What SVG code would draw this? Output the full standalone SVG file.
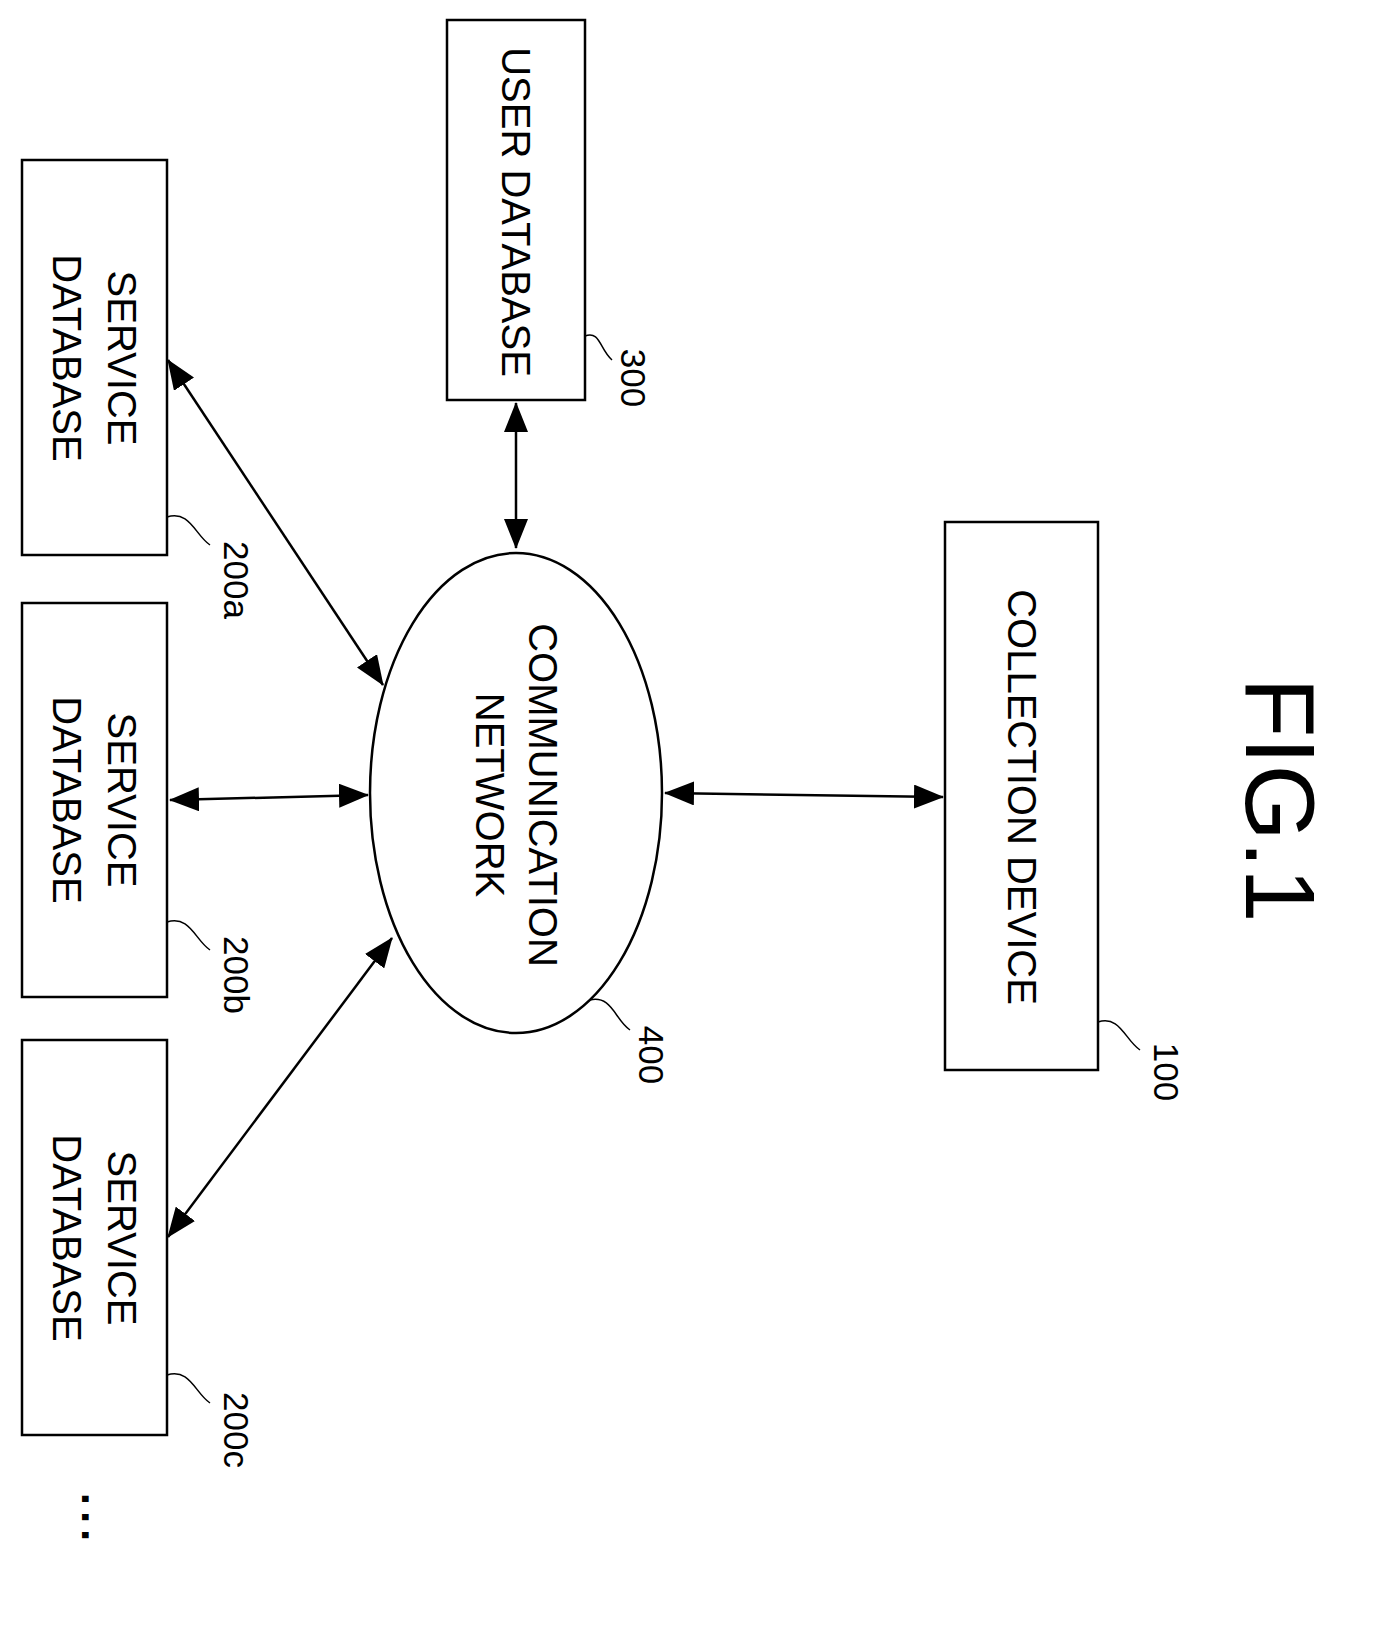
<svg xmlns="http://www.w3.org/2000/svg" width="1393" height="1632" viewBox="0 0 1393 1632">
<style>
.box{fill:#fff;stroke:#000;stroke-width:2.5}
.t{font-family:"Liberation Sans",Arial,sans-serif;font-size:40px;text-anchor:middle;fill:#000}
.n{font-family:"Liberation Sans",Arial,sans-serif;font-size:35px;text-anchor:middle;fill:#000}
.l{fill:none;stroke:#000;stroke-width:1.5}
.k{stroke:#000;stroke-width:2.5}
</style>
<defs>
<marker id="b" markerWidth="30" markerHeight="24" refX="29" refY="12" orient="auto-start-reverse" markerUnits="userSpaceOnUse" viewBox="0 0 30 24">
<path d="M0,0 L30,12 L0,24 Z" fill="#000"/>
</marker>
</defs>
<g id="connectors">
<line class="k" x1="516" y1="403" x2="516" y2="548" marker-start="url(#b)" marker-end="url(#b)"/>
<line class="k" x1="168" y1="360" x2="383" y2="685" marker-start="url(#b)" marker-end="url(#b)"/>
<line class="k" x1="170" y1="800" x2="368" y2="795" marker-start="url(#b)" marker-end="url(#b)"/>
<line class="k" x1="168" y1="1237" x2="392" y2="938" marker-start="url(#b)" marker-end="url(#b)"/>
<line class="k" x1="665" y1="793" x2="943" y2="797" marker-start="url(#b)" marker-end="url(#b)"/>
</g>
<g id="n300">
<rect class="box" x="447" y="20" width="138" height="380"/>
<text class="t" transform="translate(502,212) rotate(90)">USER DATABASE</text>
<path class="l" d="M585,336 C600,330 600,350 612,360"/>
<text class="n" transform="translate(621,378) rotate(90)">300</text>
</g>
<g id="n200a">
<rect class="box" x="22" y="160" width="145" height="395"/>
<text class="t" transform="translate(108,358) rotate(90)">SERVICE</text>
<text class="t" transform="translate(53,358) rotate(90)">DATABASE</text>
<path class="l" d="M167,517 C190,510 195,535 210,545"/>
<text class="n" transform="translate(224,580) rotate(90)">200a</text>
</g>
<g id="n200b">
<rect class="box" x="22" y="603" width="145" height="394"/>
<text class="t" transform="translate(108,800) rotate(90)">SERVICE</text>
<text class="t" transform="translate(53,800) rotate(90)">DATABASE</text>
<path class="l" d="M167,922 C190,915 195,940 210,950"/>
<text class="n" transform="translate(224,975) rotate(90)">200b</text>
</g>
<g id="n200c">
<rect class="box" x="22" y="1040" width="145" height="395"/>
<text class="t" transform="translate(108,1238) rotate(90)">SERVICE</text>
<text class="t" transform="translate(53,1238) rotate(90)">DATABASE</text>
<path class="l" d="M167,1375 C190,1368 195,1393 210,1403"/>
<text class="n" transform="translate(224,1430) rotate(90)">200c</text>
</g>
<g id="n400">
<ellipse cx="516" cy="793" rx="146" ry="240" fill="#fff" stroke="#000" stroke-width="2.5"/>
<text class="t" transform="translate(529,795) rotate(90)">COMMUNICATION</text>
<text class="t" transform="translate(476,795) rotate(90)">NETWORK</text>
<path class="l" d="M590,1000 C612,995 615,1020 630,1030"/>
<text class="n" transform="translate(639,1055) rotate(90)">400</text>
</g>
<g id="n100">
<rect class="box" x="945" y="522" width="153" height="548"/>
<text class="t" transform="translate(1008,797) rotate(90)">COLLECTION DEVICE</text>
<path class="l" d="M1098,1022 C1120,1015 1125,1040 1140,1050"/>
<text class="n" transform="translate(1154,1072) rotate(90)">100</text>
</g>
<text transform="translate(1246,800) rotate(90)" style="font-family:'Liberation Sans',Arial,sans-serif;font-size:98px;text-anchor:middle">FIG.1</text>
<text transform="translate(82,1520) rotate(90)" style="font-family:'Liberation Sans',Arial,sans-serif;font-size:44px;font-weight:bold;letter-spacing:6px;text-anchor:middle">...</text>
</svg>
